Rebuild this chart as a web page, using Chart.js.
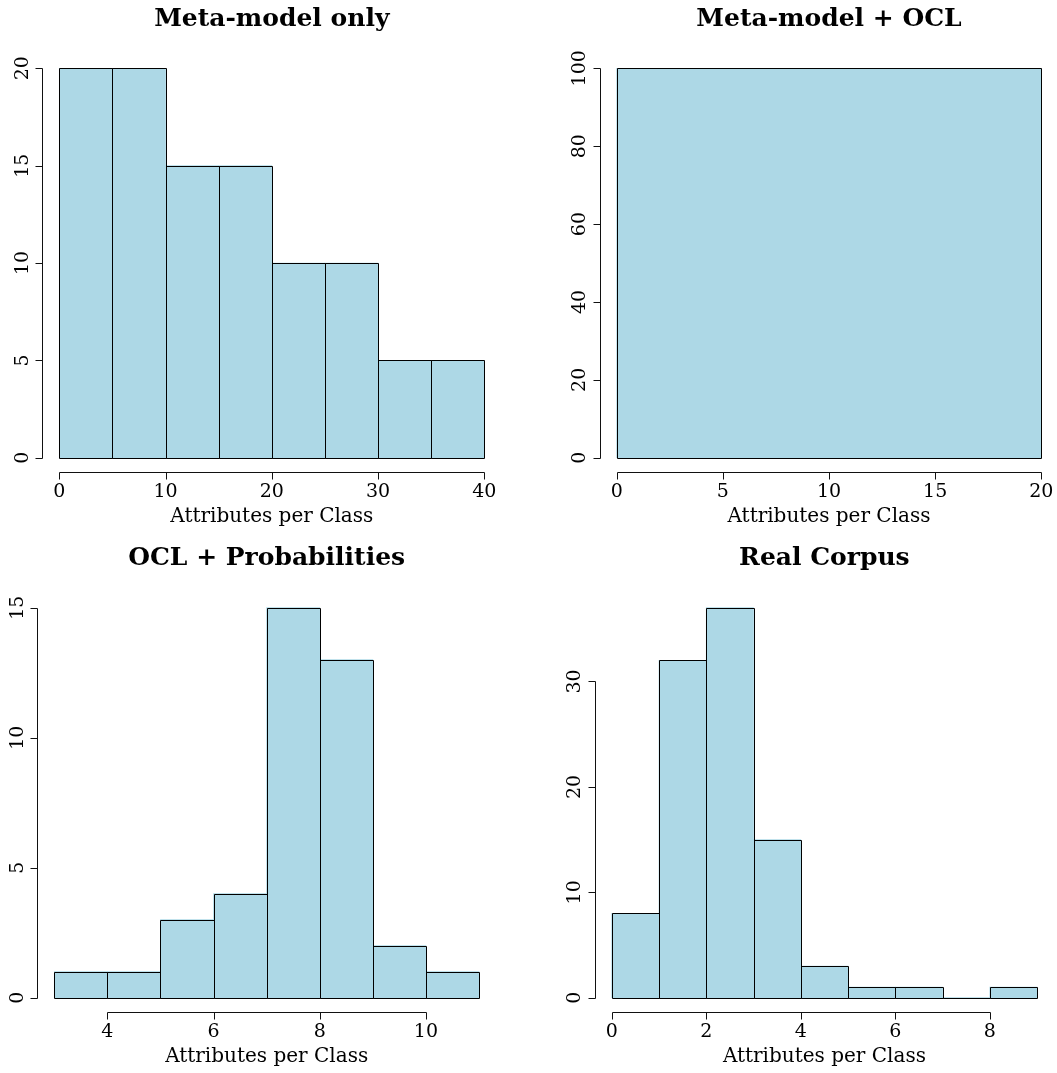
<!DOCTYPE html>
<html>
<head>
<meta charset="utf-8">
<script src="https://cdn.jsdelivr.net/npm/chart.js@4.4.1/dist/chart.umd.min.js"></script>
<style>
  html, body { margin: 0; padding: 0; background: #ffffff; overflow: hidden; }
  body { width: 1057px; height: 1073px; position: relative; }
  .panel { position: absolute; }
  .panel canvas { display: block; }
</style>
</head>
<body>
<div class="panel" id="panel1" style="left:0px;top:0px;width:528px;height:540px;"><canvas id="chart1"></canvas></div>
<div class="panel" id="panel2" style="left:528px;top:0px;width:531px;height:540px;"><canvas id="chart2"></canvas></div>
<div class="panel" id="panel3" style="left:0px;top:540px;width:528px;height:533px;"><canvas id="chart3"></canvas></div>
<div class="panel" id="panel4" style="left:528px;top:540px;width:531px;height:533px;"><canvas id="chart4"></canvas></div>
<script>
// Histogram titles and shared axis title
const panelTitles = ['Meta-model only', 'Meta-model + OCL', 'OCL + Probabilities', 'Real Corpus'];
const xAxisTitle = 'Attributes per Class';

// Meta-model only
const metaOnlyBreaks = [0, 5, 10, 15, 20, 25, 30, 35, 40];
const metaOnlyCounts = [20, 20, 15, 15, 10, 10, 5, 5];
const metaOnlyXTicks = [0, 10, 20, 30, 40];
const metaOnlyYTicks = [0, 5, 10, 15, 20];

// Meta-model + OCL
const metaOclBreaks = [0, 20];
const metaOclCounts = [100];
const metaOclXTicks = [0, 5, 10, 15, 20];
const metaOclYTicks = [0, 20, 40, 60, 80, 100];

// OCL + Probabilities
const oclProbBreaks = [3, 4, 5, 6, 7, 8, 9, 10, 11];
const oclProbCounts = [1, 1, 3, 4, 15, 13, 2, 1];
const oclProbXTicks = [4, 6, 8, 10];
const oclProbYTicks = [0, 5, 10, 15];

// Real Corpus
const corpusBreaks = [0, 1, 2, 3, 4, 5, 6, 7, 8, 9];
const corpusCounts = [8, 32, 37, 15, 3, 1, 1, 0, 1];
const corpusXTicks = [0, 2, 4, 6, 8];
const corpusYTicks = [0, 10, 20, 30];

const FILL = '#ADD8E6';
const INK = '#000000';
const SERIF = '"DejaVu Serif", "Liberation Serif", serif';

const crisp = v => Math.round(v) + 0.5;

// Bar outlines: each bin rectangle stroked on whole-pixel lines, so
// shared edges between neighbouring bins are a single thin line.
const binOutlines = {
  id: 'binOutlines',
  afterDatasetsDraw(chart) {
    const { ctx } = chart;
    const meta = chart.getDatasetMeta(0);
    ctx.save();
    ctx.strokeStyle = INK;
    ctx.lineWidth = 1;
    meta.data.forEach(bar => {
      const { x, y, base, width } = bar.getProps(['x', 'y', 'base', 'width'], true);
      const l = crisp(x - width / 2), r = crisp(x + width / 2);
      const t = crisp(Math.min(y, base)), b = crisp(Math.max(y, base));
      ctx.beginPath();
      ctx.rect(l, t, r - l, b - t);
      ctx.stroke();
    });
    ctx.restore();
  }
};

// Axes in base-graphics style: offset lines spanning first..last tick,
// outward tick marks, labels parallel to each axis.
const histFrame = {
  id: 'histFrame',
  afterDraw(chart, args, opts) {
    const { ctx, chartArea: area, scales: { x, y } } = chart;
    ctx.save();
    ctx.strokeStyle = '#111111';
    ctx.fillStyle = INK;
    ctx.lineWidth = 1;

    // horizontal axis
    const xt = opts.xTicks;
    const axY = Math.round(area.bottom) - 0.5;
    ctx.beginPath();
    ctx.moveTo(crisp(x.getPixelForValue(xt[0])), axY);
    ctx.lineTo(crisp(x.getPixelForValue(xt[xt.length - 1])), axY);
    xt.forEach(v => {
      const px = crisp(x.getPixelForValue(v));
      ctx.moveTo(px, axY);
      ctx.lineTo(px, axY + 7);
    });
    ctx.stroke();
    ctx.font = '19px ' + SERIF;
    ctx.textAlign = 'center';
    ctx.textBaseline = 'alphabetic';
    xt.forEach(v => ctx.fillText(String(v), x.getPixelForValue(v), area.bottom + 24));

    // vertical axis
    const yv = y.ticks.map(t => t.value);
    const axX = Math.round(area.left) + 0.5;
    ctx.beginPath();
    ctx.moveTo(axX, crisp(y.getPixelForValue(yv[0])));
    ctx.lineTo(axX, crisp(y.getPixelForValue(yv[yv.length - 1])));
    yv.forEach(v => {
      const py = crisp(y.getPixelForValue(v));
      ctx.moveTo(axX, py);
      ctx.lineTo(axX - 7, py);
    });
    ctx.stroke();
    yv.forEach(v => {
      ctx.save();
      ctx.translate(area.left - 14.3, y.getPixelForValue(v));
      ctx.rotate(-Math.PI / 2);
      ctx.fillText(String(v), 0, 0);
      ctx.restore();
    });

    // titles
    const cx = (area.left + area.right) / 2;
    ctx.font = '20px ' + SERIF;
    ctx.fillText(opts.xTitle, cx, area.bottom + 48.5);
    ctx.font = 'bold 25px ' + SERIF;
    ctx.fillText(opts.title, cx, area.top - 27);
    ctx.restore();
  }
};

function makeHistogram(canvasId, size, padding, title, breaks, counts, xTicks, yTicks) {
  const lo = breaks[0], hi = breaks[breaks.length - 1];
  const xPad = (hi - lo) * 0.04;
  const yMax = Math.max(...counts);
  const yPad = yMax * 0.04;
  const points = counts.map((c, i) => ({ x: (breaks[i] + breaks[i + 1]) / 2, y: c }));

  const canvas = document.getElementById(canvasId);
  canvas.width = size.w;
  canvas.height = size.h;

  return new Chart(canvas, {
    type: 'bar',
    data: {
      datasets: [{
        data: points,
        backgroundColor: FILL,
        borderWidth: 0,
        barPercentage: 1,
        categoryPercentage: 1
      }]
    },
    options: {
      responsive: false,
      animation: false,
      events: [],
      layout: { padding },
      plugins: {
        legend: { display: false },
        tooltip: { enabled: false },
        title: { display: false },
        histFrame: { title, xTitle: xAxisTitle, xTicks }
      },
      scales: {
        x: {
          type: 'linear',
          display: false,
          offset: false,
          min: lo - xPad,
          max: hi + xPad,
          afterBuildTicks: scale => { scale.ticks = breaks.map(v => ({ value: v })); }
        },
        y: {
          type: 'linear',
          display: false,
          min: -yPad,
          max: yMax + yPad,
          afterBuildTicks: scale => { scale.ticks = yTicks.map(v => ({ value: v })); }
        }
      }
    },
    plugins: [binOutlines, histFrame]
  });
}

makeHistogram('chart1', { w: 528, h: 540 }, { left: 42.3, top: 52.7, right: 26.7, bottom: 66.7 },
  panelTitles[0], metaOnlyBreaks, metaOnlyCounts, metaOnlyXTicks, metaOnlyYTicks);
makeHistogram('chart2', { w: 531, h: 540 }, { left: 71.7, top: 52.7, right: 0.7, bottom: 66.7 },
  panelTitles[1], metaOclBreaks, metaOclCounts, metaOclXTicks, metaOclYTicks);
makeHistogram('chart3', { w: 528, h: 533 }, { left: 37.3, top: 52.1, right: 32, bottom: 59.7 },
  panelTitles[2], oclProbBreaks, oclProbCounts, oclProbXTicks, oclProbYTicks);
makeHistogram('chart4', { w: 531, h: 533 }, { left: 66.7, top: 52.1, right: 4.9, bottom: 59.7 },
  panelTitles[3], corpusBreaks, corpusCounts, corpusXTicks, corpusYTicks);
</script>
</body>
</html>
